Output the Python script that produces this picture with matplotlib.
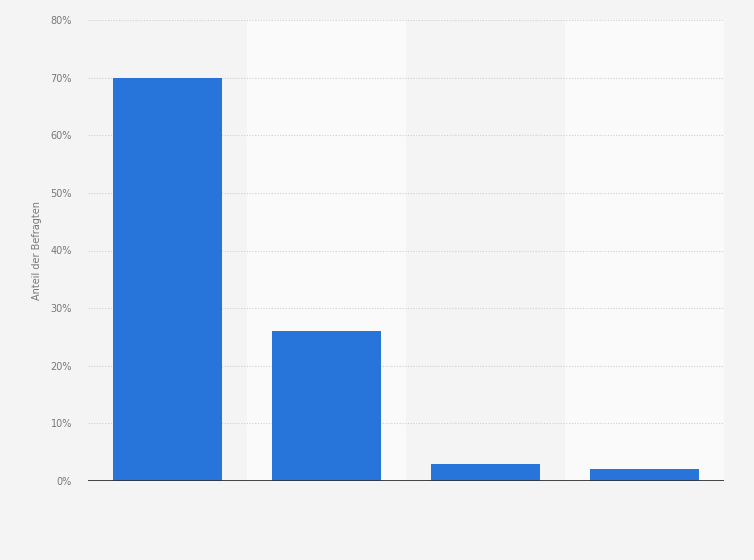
import matplotlib
matplotlib.use("Agg")
import matplotlib.pyplot as plt
import numpy as np

# values (x labels are blank in the original)
categories = ["", " ", "  ", "   "]
shares = [70, 26, 3, 2]
y_ticks = [0, 10, 20, 30, 40, 50, 60, 70, 80]

BG = "#f4f4f4"
BAND = "#fafafa"
BLUE = "#2775db"

fig = plt.figure(figsize=(7.54, 5.6), dpi=100, facecolor=BG)
ax = fig.add_axes([88 / 754, 1 - 481 / 560, (724 - 88) / 754, (481 - 20) / 560])
ax.set_facecolor(BG)

x = np.arange(len(categories))
# alternating background bands per category
for i in x:
    if i % 2 == 1:
        ax.axvspan(i - 0.5, i + 0.5, color=BAND, zorder=0, lw=0)

ax.bar(x, shares, width=0.686, color=BLUE, zorder=3)

ax.set_xlim(-0.5, len(categories) - 0.5)
ax.set_ylim(0, 80)
ax.set_yticks(y_ticks)
ax.set_yticklabels([f"{t}%" for t in y_ticks])
ax.set_xticks(x)
ax.set_xticklabels(categories)
ax.tick_params(axis="both", length=0, labelsize=7, labelcolor="#777777", pad=11.5)

ax.grid(axis="y", color="#cfcfcf", linestyle=(0, (1, 1.5)), linewidth=0.8, zorder=1)
ax.axhline(0, color="#333333", linewidth=1.3, zorder=4)

for side in ["top", "right", "left", "bottom"]:
    ax.spines[side].set_visible(False)

ax.set_ylabel("Anteil der Befragten", fontsize=7, color="#777777", labelpad=6)

fig.savefig("out.png", dpi=100, facecolor=BG)
